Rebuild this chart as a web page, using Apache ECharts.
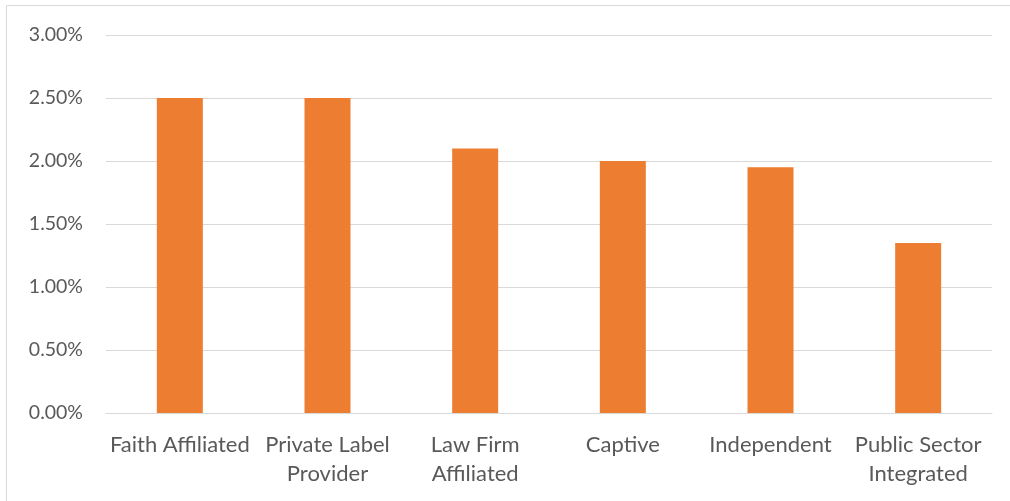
<!DOCTYPE html>
<html><head><meta charset="utf-8">
<script src="https://cdn.jsdelivr.net/npm/echarts@6/dist/echarts.min.js"></script>
<style>html,body{margin:0;padding:0;background:#fff}#c{width:1010px;height:501px}</style>
</head><body><div id="c"></div>
<script>
const categories = ["Faith Affiliated", "Private Label\nProvider", "Law Firm\nAffiliated", "Captive", "Independent", "Public Sector\nIntegrated"];
const values = [2.50, 2.50, 2.10, 2.00, 1.95, 1.35];
const yTicks = [0, 0.5, 1.0, 1.5, 2.0, 2.5, 3.0];

const chart = echarts.init(document.getElementById('c'));
chart.setOption({
  animation: false,
  backgroundColor: '#fff',
  graphic: [
    {type: 'line', shape: {x1: 6.5, y1: 5.5, x2: 1010, y2: 5.5}, style: {stroke: '#d9d9d9', lineWidth: 1}},
    {type: 'line', shape: {x1: 6.5, y1: 5.5, x2: 6.5, y2: 501}, style: {stroke: '#d9d9d9', lineWidth: 1}}
  ],
  grid: {left: 106, right: 18, top: 35, bottom: 88},
  xAxis: {
    type: 'category', data: categories,
    axisTick: {show: false},
    axisLine: {lineStyle: {color: '#d9d9d9'}},
    axisLabel: {color: '#595959', fontFamily: 'Lato', fontSize: 22, margin: 17, lineHeight: 29, interval: 0}
  },
  yAxis: {
    type: 'value', min: 0, max: 3, interval: 0.5,
    axisLabel: {color: '#595959', fontFamily: 'Lato', fontSize: 19.5, margin: 23,
      formatter: v => v.toFixed(2) + '%'},
    splitLine: {lineStyle: {color: '#d9d9d9'}},
    axisLine: {show: false}, axisTick: {show: false}
  },
  series: [{type: 'bar', data: values, barWidth: 46, itemStyle: {color: '#ed7d31'}}]
});
</script></body></html>
